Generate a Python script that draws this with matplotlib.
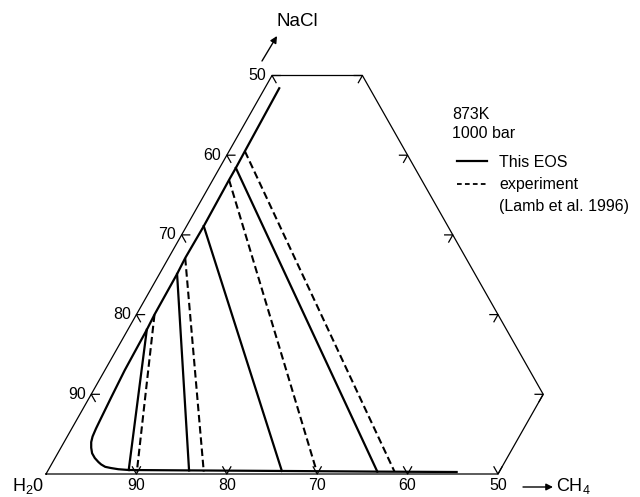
import numpy as np
import matplotlib.pyplot as plt
from matplotlib.lines import Line2D

plt.rcParams['font.family'] = ['Liberation Sans', 'DejaVu Sans']
plt.rcParams['mathtext.fontset'] = 'custom'
plt.rcParams['mathtext.rm'] = 'Liberation Sans'

# compositions in mol%, H2O is the balance
# two-phase boundary from this EOS (brine limb, then vapour limb along the base)
eos_nacl = [48.4, 40.5, 38.4, 36.9, 31.1, 27.1, 25.1, 20.0, 18.1, 13.0, 9.7,
            6.8, 5.7, 4.7, 4.0, 3.3, 2.6, 2.0, 1.5, 1.2, 0.9, 0.75, 0.6,
            0.5, 0.45, 0.38, 0.3, 0.25]
eos_ch4 = [1.6, 1.75, 1.8, 1.8, 1.9, 1.85, 1.95, 2.0, 2.1, 2.2, 2.4,
           2.6, 2.68, 2.8, 3.0, 3.35, 3.8, 4.4, 5.05, 5.5, 6.1, 6.8, 7.7,
           8.9, 15.7, 26.0, 36.5, 45.3]

# tie lines, brine end -> vapour end
eos_tie_brine_nacl = [38.4, 31.1, 25.1, 18.1]
eos_tie_brine_ch4 = [1.8, 1.9, 1.95, 2.1]
eos_tie_vap_nacl = [0.3, 0.38, 0.45, 0.5]
eos_tie_vap_ch4 = [36.5, 25.9, 15.6, 8.9]

exp_tie_brine_nacl = [40.5, 36.9, 27.1, 20.0]
exp_tie_brine_ch4 = [1.75, 1.8, 1.85, 2.0]
exp_tie_vap_nacl = [0.3, 0.3, 0.3, 0.3]
exp_tie_vap_ch4 = [38.4, 29.8, 17.3, 9.9]

# outline of the part of the triangle that is shown
frame_nacl = [0, 50, 50, 10, 0, 0]
frame_ch4 = [0, 0, 10, 50, 50, 0]

h2o_ticks = [90, 80, 70, 60, 50]
right_ticks = [10, 20, 30, 40, 50]   # NaCl on the H2O = 40 edge
TL = 0.9                             # tick length, mol%


def tern(nacl, ch4):
    nacl = np.asarray(nacl, dtype=float)
    ch4 = np.asarray(ch4, dtype=float)
    return ch4 + nacl / 2.0, nacl * np.sqrt(3) / 2.0


def fig_xy(px, py):
    # pixel position measured from the top-left corner -> figure fraction
    return px / 640.0, 1.0 - py / 497.0


fig = plt.figure(figsize=(6.4, 4.97), dpi=100)
ax = fig.add_axes([0, 0, 1, 1])
ax.set_xlim(-46 / 9.04, 594 / 9.04)
ax.set_ylim(-23 / 9.203, 474 / 9.203)
ax.axis('off')

fx, fy = tern(frame_nacl, frame_ch4)
ax.plot(fx, fy, color='black', lw=0.9, solid_joinstyle='miter')

tk = dict(color='black', lw=0.9)
for h in h2o_ticks:
    n = 100 - h
    # left edge
    x0, y0 = tern(n, 0)
    x1, y1 = tern([n, n, n - TL], [TL, 0, TL])
    ax.plot(x1, y1, **tk)
    ax.annotate(str(h), (x0, y0), xytext=(-4, 0), textcoords='offset points',
                ha='right', va='center', fontsize=11.5)
    # base
    c = 100 - h
    x0, y0 = tern(0, c)
    x1, y1 = tern([TL, 0, TL], [c - TL, c, c])
    ax.plot(x1, y1, **tk)
    ax.annotate(str(h), (x0, y0), xytext=(0, -3), textcoords='offset points',
                ha='center', va='top', fontsize=11.5)

for n in right_ticks:
    c = 60 - n
    x1, y1 = tern([n, n, n - TL], [c - TL, c, c])
    ax.plot(x1, y1, **tk)

# EOS boundary and tie lines
ex, ey = tern(eos_nacl, eos_ch4)
ax.plot(ex, ey, color='black', lw=1.6)
for bn, bc, vn, vc in zip(eos_tie_brine_nacl, eos_tie_brine_ch4,
                          eos_tie_vap_nacl, eos_tie_vap_ch4):
    tx, ty = tern([bn, vn], [bc, vc])
    ax.plot(tx, ty, color='black', lw=1.6)

for bn, bc, vn, vc in zip(exp_tie_brine_nacl, exp_tie_brine_ch4,
                          exp_tie_vap_nacl, exp_tie_vap_ch4):
    tx, ty = tern([bn, vn], [bc, vc])
    ax.plot(tx, ty, color='black', lw=1.5, dashes=(3.6, 1.8))

# apex labels
fig.text(*fig_xy(276, 22), 'NaCl', fontsize=13.5, ha='left', va='center')
ax.annotate('', xy=fig_xy(277, 36), xytext=fig_xy(262, 61),
            xycoords='figure fraction', textcoords='figure fraction',
            arrowprops=dict(arrowstyle='-|>', lw=1.0, color='black',
                            mutation_scale=10, shrinkA=0, shrinkB=0))
fig.text(*fig_xy(12, 491.5), r'$\mathregular{H_20}$', fontsize=13,
         ha='left', va='baseline')
fig.text(*fig_xy(556, 491.5), r'$\mathregular{CH_4}$', fontsize=13,
         ha='left', va='baseline')
ax.annotate('', xy=fig_xy(553, 487), xytext=fig_xy(523, 487),
            xycoords='figure fraction', textcoords='figure fraction',
            arrowprops=dict(arrowstyle='-|>', lw=1.0, color='black',
                            mutation_scale=10, shrinkA=0, shrinkB=0))

# conditions and legend
fig.text(*fig_xy(452, 124), '873K\n1000 bar', fontsize=11.5, ha='left',
         va='center', linespacing=1.32)
handles = [Line2D([], [], color='black', lw=1.6),
           Line2D([], [], color='black', lw=1.3, dashes=(2.6, 1.8)),
           Line2D([], [], color='none')]
ax.legend(handles, ['This EOS', 'experiment', '(Lamb et al. 1996)'],
          loc='upper left', bbox_to_anchor=fig_xy(457, 155),
          bbox_transform=fig.transFigure, frameon=False, fontsize=11.5,
          handlelength=1.9, handletextpad=0.75, labelspacing=0.45,
          borderaxespad=0, borderpad=0)

fig.savefig('out.png', dpi=100)
